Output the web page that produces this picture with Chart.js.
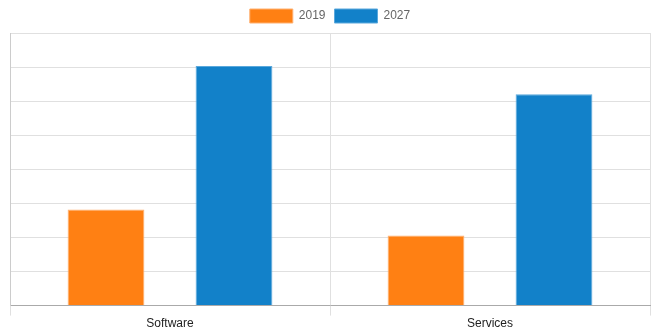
<!DOCTYPE html>
<html><head><meta charset="utf-8">
<script src="https://cdn.jsdelivr.net/npm/chart.js@4/dist/chart.umd.min.js"></script>
<style>html,body{margin:0;padding:0;background:#fff}#wrap{width:653px;height:336px}</style>
</head><body><div id="wrap"><canvas id="c"></canvas></div>
<script>
const categories = ["Software", "Services"];
const series2019 = [2.82, 2.06];
const series2027 = [7.03, 6.2];
const seriesNames = ["2019", "2027"];

Chart.defaults.font.family = "'Liberation Sans', Arial, sans-serif";
Chart.defaults.font.size = 12;
new Chart(document.getElementById('c'), {
  type: 'bar',
  data: {
    labels: categories,
    datasets: [
      {label: seriesNames[0], data: series2019, backgroundColor: '#ff8013', borderColor: '#ffb070', borderWidth: 1, barPercentage: 0.6, categoryPercentage: 0.8},
      {label: seriesNames[1], data: series2027, backgroundColor: '#1281c9', borderColor: '#5aa8dc', borderWidth: 1, barPercentage: 0.6, categoryPercentage: 0.8}
    ]
  },
  options: {
    responsive: true, maintainAspectRatio: false, animation: false,
    layout: {padding: {left: 10, right: 3, top: 0, bottom: 4}},
    plugins: {
      legend: {position: 'top', labels: {boxWidth: 43, boxHeight: 14, color: '#666', padding: 9}},
      tooltip: {enabled: false}
    },
    scales: {
      x: {
        grid: {color: '#e0e0e0', tickLength: 10, offset: true},
        border: {color: '#aaa'},
        ticks: {color: '#222', padding: 1}
      },
      y: {
        min: 0, max: 8,
        ticks: {display: false, stepSize: 1},
        grid: {color: '#e0e0e0', drawTicks: false},
        border: {color: '#ccc'}
      }
    }
  }
});
</script></body></html>
